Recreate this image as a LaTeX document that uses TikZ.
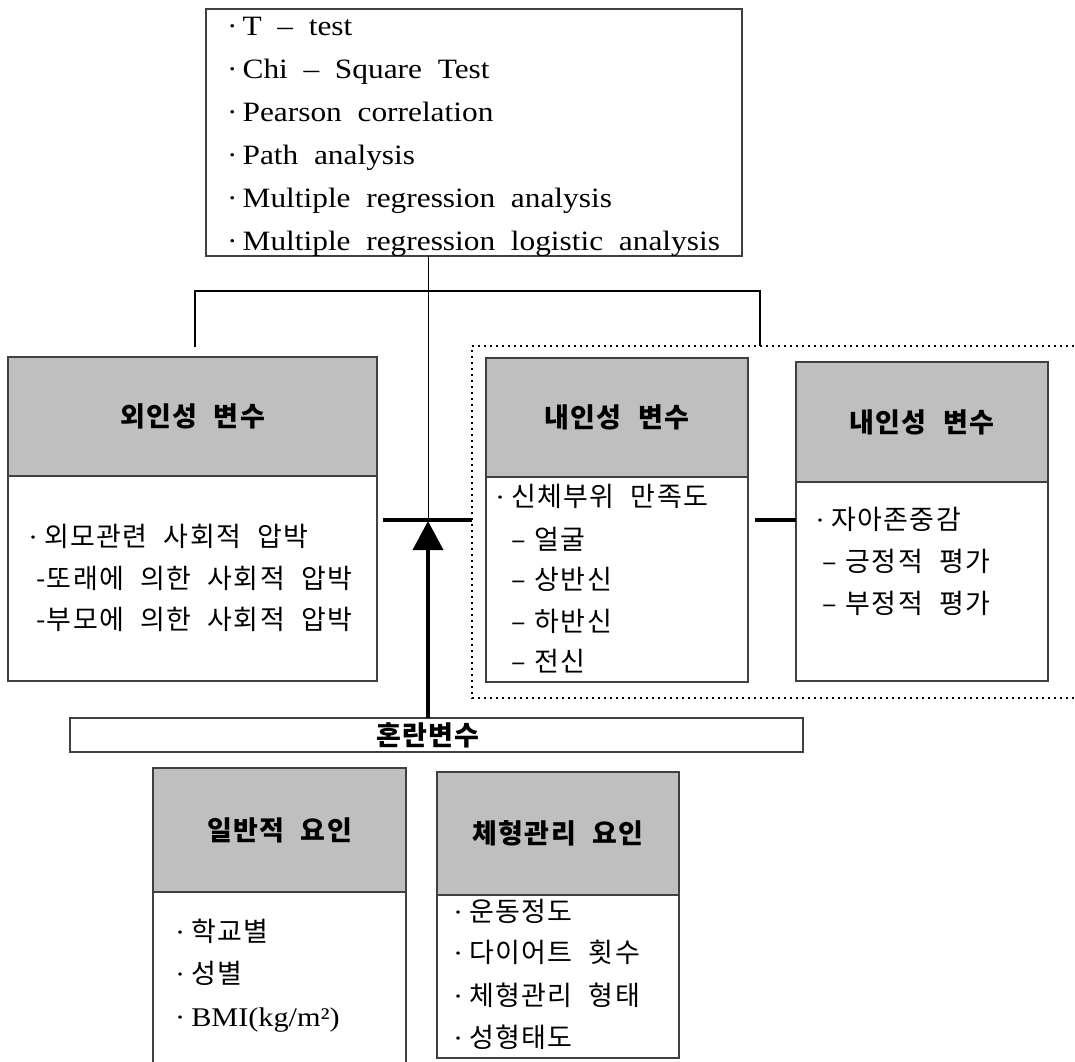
\documentclass[tikz,border=0pt]{standalone}
\usepackage{fontspec}
\usetikzlibrary{arrows.meta}
\newfontfamily\kr[WordSpace=2.2,LetterSpace=5]{Noto Sans CJK KR}
\newfontfamily\lat[WordSpace=2.0,FakeStretch=1.12]{Liberation Serif}
\newcommand{\mybul}{{\lat ·}\hspace{6pt}}
\newcommand{\mydash}{–\hspace{9pt}}
\definecolor{hdr}{HTML}{BFBFBF}
\definecolor{edge}{HTML}{404040}
\begin{document}
\begin{tikzpicture}[x=1pt,y=-1pt,
  box/.style={draw=edge,line width=1.2pt,anchor=north west,inner sep=0pt,outer sep=0pt,fill=white},
  hbox/.style={box,fill=hdr},
  htxt/.style={font=\kr\bfseries\fontsize{27}{27}\selectfont,inner sep=0pt},
  ktxt/.style={font=\kr\fontsize{27}{27}\selectfont,anchor=base west,inner sep=0pt},
  ltxt/.style={font=\lat\fontsize{28}{28}\selectfont,anchor=base west,inner sep=0pt},
  fat/.style={line width=4pt},
  thin/.style={line width=1pt},
  brk/.style={line width=1.6pt},
  dots/.style={line width=2pt,dash pattern=on 2pt off 4pt},
]
\useasboundingbox (0,0) rectangle (1075,1061);

% top box
\node[box,minimum width=536pt,minimum height=247pt] (T) at (206,9) {};
\node[ltxt] (t1) at (227,35) {·\hspace{5pt}T – test};
\node[ltxt] (t2) at (227,78) {·\hspace{5pt}Chi – Square Test};
\node[ltxt] (t3) at (227,121) {·\hspace{5pt}Pearson correlation};
\node[ltxt] (t4) at (227,164) {·\hspace{5pt}Path analysis};
\node[ltxt] (t5) at (227,207) {·\hspace{5pt}Multiple regression analysis};
\node[ltxt] (t6) at (227,250) {·\hspace{5pt}Multiple regression logistic analysis};

% dotted region
\draw[dots] (1080,346) -- (472,346) -- (472,698) -- (1080,698);

% left box
\node[box,minimum width=369pt,minimum height=324pt] (L) at (8,357) {};
\node[hbox,minimum width=369pt,minimum height=119pt] (LH) at (8,357) {};
\node[htxt] at (LH.center) {외인성 변수};
\node[ktxt] (l1) at (28,546) {\mybul 외모관련 사회적 압박};
\node[ktxt] (l2) at (36,588) {-또래에 의한 사회적 압박};
\node[ktxt] (l3) at (36,629) {-부모에 의한 사회적 압박};

% inner box 1
\node[box,minimum width=262pt,minimum height=324pt] (A) at (486,358) {};
\node[hbox,minimum width=262pt,minimum height=119pt] (AH) at (486,358) {};
\node[htxt] at (AH.center) {내인성 변수};
\node[ktxt] at (495,506) {\mybul 신체부위 만족도};
\node[ktxt] at (511,549) {\mydash 얼굴};
\node[ktxt] at (511,589) {\mydash 상반신};
\node[ktxt] at (511,631) {\mydash 하반신};
\node[ktxt] at (511,671) {\mydash 전신};

% inner box 2
\node[box,minimum width=252pt,minimum height=319pt] (B) at (796,362) {};
\node[hbox,minimum width=252pt,minimum height=120pt] (BH) at (796,362) {};
\node[htxt] at (BH.center) {내인성 변수};
\node[ktxt] at (815,529) {\mybul 자아존중감};
\node[ktxt] at (822,571) {\mydash 긍정적 평가};
\node[ktxt] at (822,613) {\mydash 부정적 평가};

% confounders bar
\node[box,minimum width=733pt,minimum height=34pt] (C) at (70,718) {};
\node[htxt] at (428,735) {혼란변수};

% bottom box A
\node[box,minimum width=253pt,minimum height=310pt] (G) at (153,768) {};
\node[hbox,minimum width=253pt,minimum height=124pt] (GH) at (153,768) {};
\node[htxt] at (GH.center) {일반적 요인};
\node[ktxt] at (175,941) {\mybul 학교별};
\node[ktxt] at (175,983) {\mybul 성별};
\node[ktxt] at (175,1026) {\mybul{\lat\fontsize{27}{27}\selectfont BMI(kg/m²)}};

% bottom box B
\node[box,minimum width=242pt,minimum height=286pt] (H) at (437,772) {};
\node[hbox,minimum width=242pt,minimum height=123pt] (HH) at (437,772) {};
\node[htxt] at (HH.center) {체형관리 요인};
\node[ktxt] at (453,921) {\mybul 운동정도};
\node[ktxt] at (453,962) {\mybul 다이어트 횟수};
\node[ktxt] at (453,1005) {\mybul 체형관리 형태};
\node[ktxt] at (453,1047) {\mybul 성형태도};

% connectors
\coordinate (hub) at (428,520);
\coordinate (barL) at (383,520);
\coordinate (barR) at (472,520);
\coordinate (brL) at (195,347);
\coordinate (brR) at (760,346);
\draw[thin] (T.south -| hub) -- (hub);
\draw[brk] (brL) -- (195,291) -- (760,291) -- (brR);
\draw[fat] (barL) -- (barR);
\draw[fat,-{Triangle[width=30pt,length=29pt]}] (C.north -| hub) -- ([yshift=-1pt]hub);
\draw[fat] ([xshift=7pt]A.east |- hub) -- (B.west |- hub);
\end{tikzpicture}
\end{document}
